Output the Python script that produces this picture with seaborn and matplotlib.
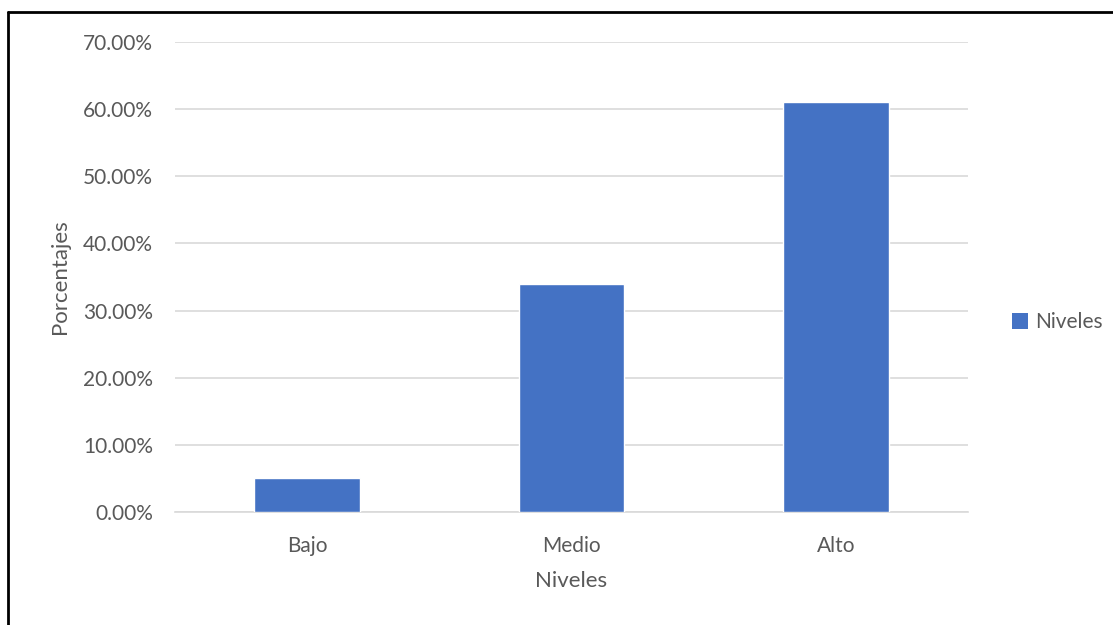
import matplotlib
matplotlib.use("Agg")
import matplotlib.pyplot as plt
from matplotlib.lines import Line2D
from matplotlib.patches import Patch
from matplotlib.ticker import PercentFormatter
import seaborn as sns
import pandas as pd

categories = ["Bajo", "Medio", "Alto"]
values = [5.0, 34.0, 61.0]
series_name = "Niveles"

sns.set_theme(style="white")
plt.rcParams["font.family"] = ["Lato", "DejaVu Sans"]

text_color = "#595959"
grid_color = "#D9D9D9"
bar_color = "#4472C4"

df = pd.DataFrame({"Niveles": categories, "Porcentajes": values})

fig = plt.figure(figsize=(11.13, 6.25), dpi=100)
ax = fig.add_axes([175 / 1113, 1 - 512 / 625, 793 / 1113, 470 / 625])

sns.barplot(data=df, x="Niveles", y="Porcentajes", color=bar_color,
            width=0.4, saturation=1, ax=ax, zorder=3)

ax.set_ylim(0, 70)
ax.set_xlim(-0.5, 2.5)
ax.set_yticks(range(0, 71, 10))
ax.yaxis.set_major_formatter(PercentFormatter(decimals=2))
ax.grid(axis="y", color=grid_color, linewidth=1.2, zorder=0)
ax.grid(axis="x", visible=False)
for side in ["top", "right", "left"]:
    ax.spines[side].set_visible(False)
ax.spines["bottom"].set_color(grid_color)
ax.spines["bottom"].set_linewidth(1.2)
ax.tick_params(axis="both", length=0, labelsize=15, colors=text_color)
ax.tick_params(axis="y", pad=16)
ax.tick_params(axis="x", pad=17)

ax.set_xlabel("Niveles", fontsize=16, color=text_color, labelpad=11)
ax.set_ylabel("Porcentajes", fontsize=16, color=text_color, labelpad=9)

handles = [Patch(facecolor=bar_color, edgecolor="none", label=series_name)]
fig.legend(handles=handles, loc="center left", bbox_to_anchor=(993 / 1113, 1 - 322 / 625),
           frameon=False, fontsize=15, labelcolor=text_color, handlelength=0.8,
           handleheight=0.8, handletextpad=0.3)

# outer frame: top and left edges
fig.add_artist(Line2D([8 / 1113, 1.0], [1 - 12 / 625, 1 - 12 / 625],
                      transform=fig.transFigure, color="black", linewidth=2))
fig.add_artist(Line2D([8 / 1113, 8 / 1113], [0, 1 - 12 / 625],
                      transform=fig.transFigure, color="black", linewidth=2))

fig.savefig("out.png", dpi=100)
